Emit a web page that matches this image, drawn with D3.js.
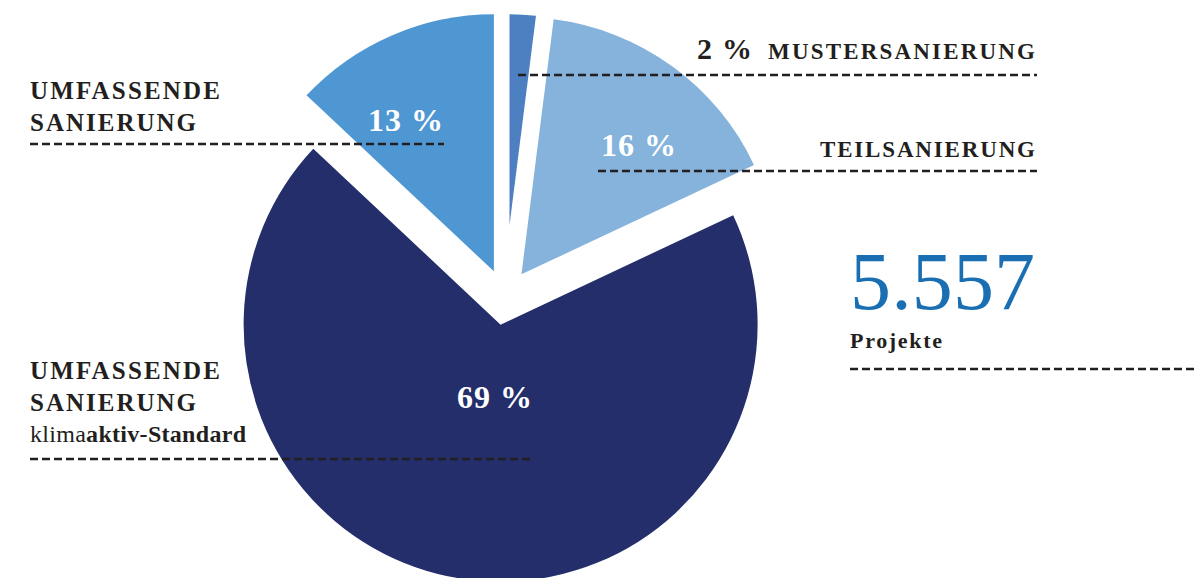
<!DOCTYPE html>
<html>
<head>
<meta charset="utf-8">
<script src="https://cdn.jsdelivr.net/npm/d3@7"></script>
<style>
  html, body { margin: 0; padding: 0; background: #ffffff; }
  svg { display: block; }
  text { font-family: "Liberation Serif", "DejaVu Serif", serif; }
</style>
</head>
<body>
<svg id="chart" width="1198" height="578"></svg>
<script>
// ---- data ----
const categories = ["Umfassende Sanierung", "Mustersanierung", "Teilsanierung", "Umfassende Sanierung klimaaktiv-Standard"];
const values = [13, 2, 16, 69];
const percentLabels = ["13 %", "2 %", "16 %", "69 %"];
const totalProjects = "5.557";
const totalLabel = "Projekte";

// ---- style / layout ----
const colors = ["#4f97d2", "#4c80c0", "#85b3dc", "#232e6b"];
const explode = [28, 72, 28, 28];
const radii = [257, 211, 257, 257];
const cx = 505, cy = 297;
const ink = "#231f20";

const svg = d3.select("#chart");

const total = d3.sum(values);
const start = -2 * Math.PI * values[0] / total;
const pie = d3.pie().sort(null).value(d => d).startAngle(start).endAngle(start + 2 * Math.PI);
const arcs = pie(values);

const g = svg.append("g").attr("transform", `translate(${cx},${cy})`);
g.selectAll("path.slice")
  .data(arcs)
  .join("path")
  .attr("class", "slice")
  .attr("fill", (d, i) => colors[i])
  .attr("transform", (d, i) => {
    const a = (d.startAngle + d.endAngle) / 2;
    return `translate(${Math.sin(a) * explode[i]},${-Math.cos(a) * explode[i]})`;
  })
  .attr("d", (d, i) => d3.arc().innerRadius(0).outerRadius(radii[i])(d));

// dashed rules
function rule(x1, x2, y) {
  svg.append("line")
    .attr("x1", x1).attr("x2", x2).attr("y1", y).attr("y2", y)
    .attr("stroke", ink).attr("stroke-width", 2.6)
    .attr("stroke-dasharray", "8,4");
}

function txt(str, x, y, size, weight, fill, len, anchor) {
  const t = svg.append("text")
    .attr("x", x).attr("y", y)
    .attr("font-size", size)
    .attr("font-weight", weight)
    .attr("fill", fill)
    .attr("text-anchor", anchor || "start")
    .text(str);
  if (len) t.attr("textLength", len).attr("lengthAdjust", "spacing");
  return t;
}

// top-left label: Umfassende Sanierung
txt("UMFASSENDE", 30, 99, 25, "bold", ink, 190);
txt("SANIERUNG", 30, 131, 25, "bold", ink, 166);
rule(30, 444, 144);

// 2 % Mustersanierung
txt(percentLabels[1], 697, 59, 30, "bold", ink, 55);
txt("MUSTERSANIERUNG", 768, 59, 23, "bold", ink, 267);
rule(518, 1037, 75);

// Teilsanierung
txt("TEILSANIERUNG", 820, 157, 23, "bold", ink, 215);
rule(598, 1037, 171);

// total projects
txt(totalProjects, 850, 309, 82, "normal", "#1a6fb3", 185);
txt(totalLabel, 850, 348, 22, "bold", ink, 92);
rule(850, 1198, 369);

// bottom-left label
txt("UMFASSENDE", 30, 379, 25, "bold", ink, 190);
txt("SANIERUNG", 30, 411, 25, "bold", ink, 166);
const k = svg.append("text").attr("x", 30).attr("y", 442).attr("font-size", 24).attr("fill", ink)
  .attr("textLength", 216).attr("lengthAdjust", "spacing");
k.append("tspan").attr("font-weight", "normal").text("klima");
k.append("tspan").attr("font-weight", "bold").text("aktiv-Standard");
rule(30, 534, 459);

// percentage labels in slices
txt(percentLabels[0], 368, 131, 32, "bold", "#ffffff", 75);
txt(percentLabels[2], 601, 156, 32, "bold", "#ffffff", 75);
txt(percentLabels[3], 457, 408, 32, "bold", "#ffffff", 75);
</script>
</body>
</html>
